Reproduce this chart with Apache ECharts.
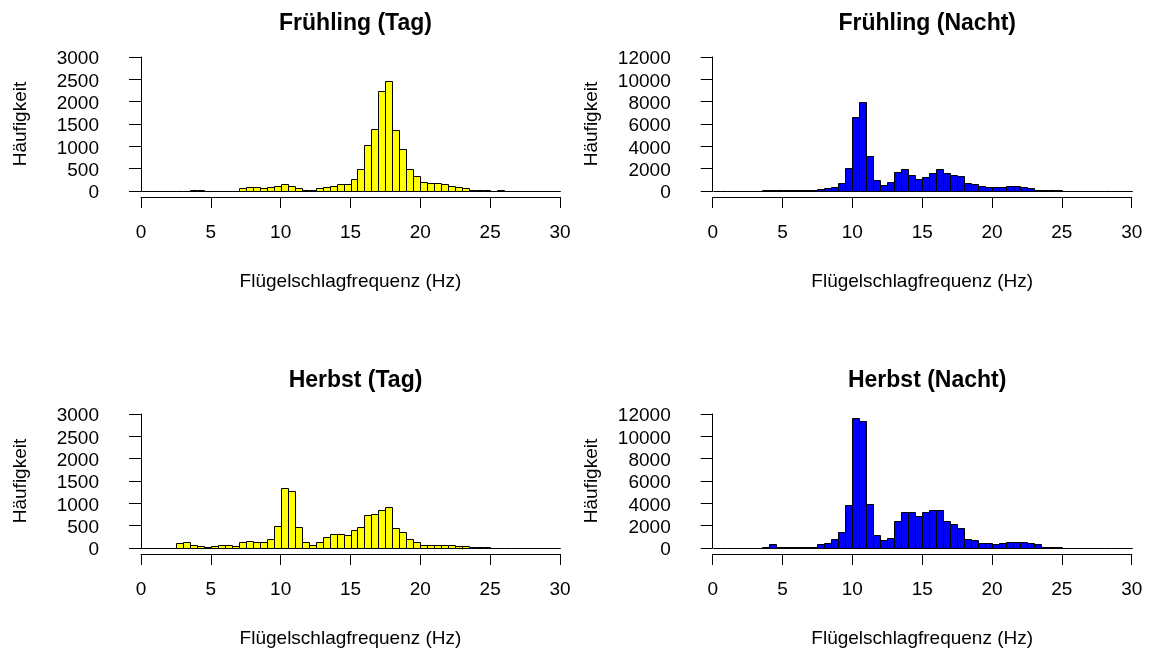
<!DOCTYPE html>
<html>
<head>
<meta charset="utf-8">
<script src="https://cdn.jsdelivr.net/npm/echarts@6/dist/echarts.min.js"></script>
<style>
  html, body { margin: 0; padding: 0; background: #fff; }
  #chart { width: 1150px; height: 651px; }
</style>
</head>
<body>
<div id="chart"></div>
<script>
// Histograms of wingbeat frequency, bins of 0.5 Hz starting at 0 Hz (60 bins, 0–30 Hz)
const binWidth = 0.5;
const xTicks = [0, 5, 10, 15, 20, 25, 30];

const panelTitles = ['Frühling (Tag)', 'Frühling (Nacht)', 'Herbst (Tag)', 'Herbst (Nacht)'];
const xAxisTitle = 'Flügelschlagfrequenz (Hz)';
const yAxisTitle = 'Häufigkeit';

// counts per bin, bin i covers [i*0.5, i*0.5+0.5)
const springDay = [
  0, 0, 0, 0, 0, 0, 0, 20, 20, 0,
  0, 0, 0, 0, 60, 100, 100, 70, 100, 120,
  150, 120, 60, 25, 25, 60, 100, 120, 150, 150,
  270, 490, 1020, 1390, 2240, 2470, 1360, 930, 490, 330,
  210, 185, 185, 150, 120, 100, 70, 30, 25, 25,
  0, 20, 0, 0, 0, 0, 0, 0, 0, 0
];
const springNight = [
  0, 0, 0, 0, 0, 0, 0, 50, 50, 50,
  60, 60, 60, 60, 60, 200, 240, 400, 720, 2060,
  6660, 7970, 3130, 990, 570, 840, 1670, 1940, 1430, 1070,
  1220, 1580, 1940, 1580, 1430, 1310, 720, 600, 480, 360,
  360, 360, 480, 480, 360, 240, 120, 120, 120, 120,
  0, 0, 0, 0, 0, 0, 0, 0, 0, 0
];
const autumnDay = [
  0, 0, 0, 0, 0, 110, 140, 75, 50, 20,
  50, 75, 75, 50, 140, 165, 140, 140, 200, 500,
  1340, 1280, 470, 140, 75, 140, 255, 320, 320, 290,
  410, 470, 745, 770, 860, 925, 440, 350, 195, 140,
  75, 75, 75, 75, 75, 50, 50, 20, 20, 20,
  0, 0, 0, 0, 0, 0, 0, 0, 0, 0
];
const autumnNight = [
  0, 0, 0, 0, 0, 0, 0, 120, 360, 60,
  60, 60, 60, 60, 60, 330, 480, 810, 1400, 3820,
  11670, 11340, 3940, 1160, 690, 900, 2390, 3190, 3190, 2840,
  3190, 3430, 3430, 2390, 2150, 1760, 810, 690, 450, 450,
  330, 450, 570, 570, 570, 480, 360, 120, 120, 120,
  0, 0, 0, 0, 0, 0, 0, 0, 0, 0
];

const panelCounts = [springDay, springNight, autumnDay, autumnNight];
const panelColors = ['#ffff00', '#0000ff', '#ffff00', '#0000ff'];
const panelYMax = [3000, 12000, 3000, 12000];
const panelYStep = [500, 2000, 500, 2000];

const FONT = "'Liberation Sans', Arial, sans-serif";
const colLeft = [141, 712.7];
const rowTop = [57, 414];
const plotW = 419;
const plotH = 134;

const grids = [], xAxes = [], yAxes = [], series = [], titles = [];

panelCounts.forEach((counts, p) => {
  const col = p % 2, row = Math.floor(p / 2);
  const left = colLeft[col], top = rowTop[row];
  grids.push({ left: left, top: top, width: plotW, height: plotH, containLabel: false });

  xAxes.push({
    gridIndex: p, type: 'value', min: 0, max: 30, interval: 5, offset: 6,
    name: xAxisTitle, nameLocation: 'middle', nameGap: 75,
    nameTextStyle: { fontFamily: FONT, fontSize: 19, color: '#000' },
    axisLine: { show: true, onZero: false, lineStyle: { color: '#000', width: 1 } },
    axisTick: { show: true, length: 11, lineStyle: { color: '#000', width: 1 } },
    axisLabel: { fontFamily: FONT, fontSize: 19, color: '#000', margin: 26,
                 formatter: v => String(v), showMinLabel: true, showMaxLabel: true },
    splitLine: { show: false }
  });

  yAxes.push({
    gridIndex: p, type: 'value', min: 0, max: panelYMax[p], interval: panelYStep[p], offset: 18,
    name: yAxisTitle, nameLocation: 'middle', nameGap: 93, nameRotate: 90,
    nameTextStyle: { fontFamily: FONT, fontSize: 19, color: '#000' },
    axisLine: { show: true, lineStyle: { color: '#000', width: 1 } },
    axisTick: { show: true, length: 12, lineStyle: { color: '#000', width: 1 } },
    axisLabel: { fontFamily: FONT, fontSize: 19, color: '#000', margin: 24,
                 verticalAlign: 'top', lineHeight: 4,
                 formatter: v => String(v), showMinLabel: true, showMaxLabel: true },
    splitLine: { show: false }
  });

  titles.push({
    text: panelTitles[p], left: left + plotW / 2, top: top - 50, textAlign: 'center',
    textStyle: { fontFamily: FONT, fontSize: 23, fontWeight: 'bold', color: '#000' }
  });

  const data = counts.map((c, i) => [i * binWidth, c]);
  series.push({
    type: 'custom', xAxisIndex: p, yAxisIndex: p, data: data, silent: true,
    renderItem: (params, api) => {
      const x0 = api.value(0);
      const h = api.value(1);
      const pTop = api.coord([x0, h]);
      const pBot = api.coord([x0 + binWidth, 0]);
      const xa = Math.round(pTop[0]) + 0.5, xb = Math.round(pBot[0]) + 0.5;
      const ya = Math.round(pTop[1]) + 0.5, yb = Math.round(pBot[1]) + 0.5;
      return {
        type: 'rect',
        shape: { x: xa, y: ya, width: xb - xa, height: yb - ya },
        style: { fill: panelColors[p], stroke: '#000', lineWidth: 1 }
      };
    }
  });
});

const chart = echarts.init(document.getElementById('chart'), null, { renderer: 'canvas' });
chart.setOption({
  backgroundColor: '#fff',
  animation: false,
  title: titles,
  grid: grids,
  xAxis: xAxes,
  yAxis: yAxes,
  series: series
});
</script>
</body>
</html>
